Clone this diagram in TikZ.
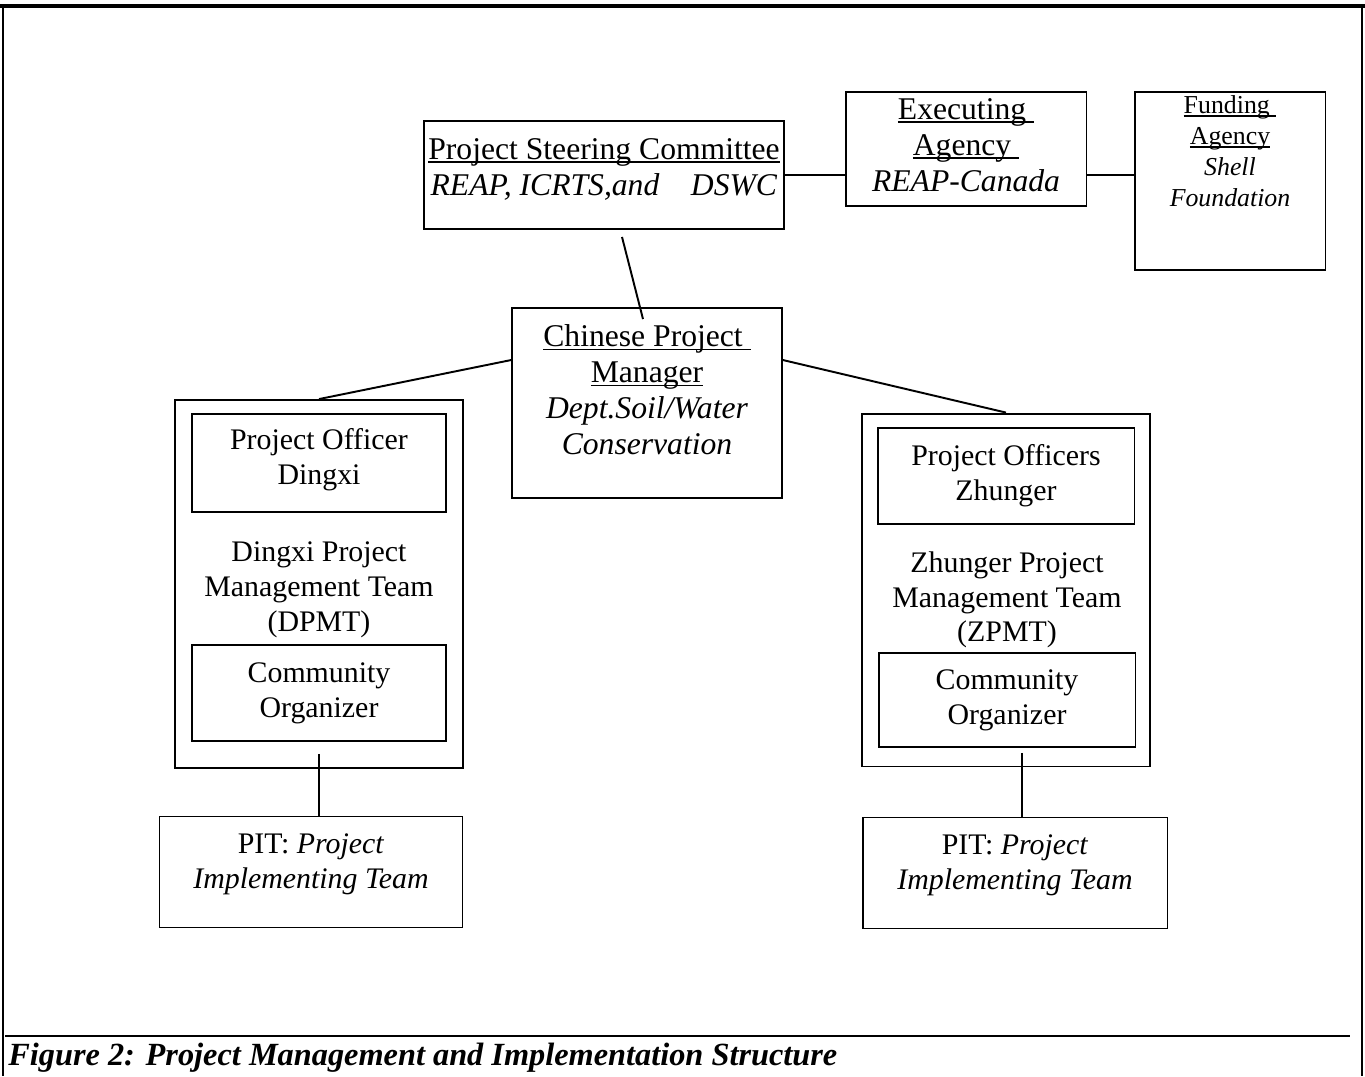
\documentclass[tikz,border=0pt]{standalone}
\usepackage{fontspec}
\setmainfont{Liberation Serif}
\usetikzlibrary{positioning}

% underline sitting close under the baseline
\newcommand\undl[1]{\setbox0\hbox{#1}\rlap{\rule[-2pt]{\wd0}{0.9pt}}\box0}

\tikzset{
  box/.style={draw, line width=1.1pt, inner sep=0pt},
  big/.style={align=center, inner sep=0pt, font=\fontsize{17}{19.8}\selectfont},
  head/.style={align=center, inner sep=0pt, font=\fontsize{18}{20.5}\selectfont},
  small/.style={align=center, inner sep=0pt, font=\fontsize{14.7}{17.6}\selectfont},
  link/.style={line width=1.1pt}
}

\begin{document}
\begin{tikzpicture}[x=0.02cm, y=-0.02cm]
\useasboundingbox (0,0) rectangle (1365,1076);

% page frame and caption rule
\draw[line width=2.2pt] (0,6) -- (1365,6);
\draw[line width=1.1pt] (3,6) -- (3,1076);
\draw[line width=1.1pt] (1362,6) -- (1362,1076);
\draw[line width=0.9pt] (5,1036) -- (1350,1036);

% top row
\node[box, minimum width=7.2cm, minimum height=2.16cm] (steer) at (604,175) {};
\node[head] (steertxt) at (604,169) {\undl{Project Steering Committee}\\ \textit{REAP, ICRTS,and\ \ \ \ DSWC}};
\node[box, minimum width=4.82cm, minimum height=2.28cm] (exec) at (966,149) {};
\node[head] (exectxt) at (966,145) {\undl{Executing\ }\\ \undl{Agency\ }\\ \textit{REAP-Canada}};
\node[box, minimum width=3.82cm, minimum height=3.56cm] (fund) at (1230,181) {};
\node[small] (fundtxt) at (1230,151) {\undl{Funding\ }\\ \undl{Agency}\\ \textit{Shell}\\ \textit{Foundation}};

% manager
\node[box, minimum width=5.4cm, minimum height=3.8cm] (cpm) at (647,403) {};
\node[head] (cpmtxt) at (647,390) {\undl{Chinese Project\ }\\ \undl{Manager}\\ \textit{Dept.Soil/Water}\\ \textit{Conservation}};

% Dingxi team
\node[box, minimum width=5.76cm, minimum height=7.36cm] (dpmt) at (319,584) {};
\node[box, minimum width=5.08cm, minimum height=1.96cm] (doff) at (319,463) {};
\node[big] (dofftxt) at (319,460) {Project Officer\\ Dingxi};
\node[big] (dpmttxt) at (319,590) {Dingxi Project\\ Management Team\\ (DPMT)};
\node[box, big, minimum width=5.08cm, minimum height=1.92cm] (dcom) at (319,693) {Community\\ Organizer};
\node[box, minimum width=6.06cm, minimum height=2.22cm] (dpit) at (311,872) {};
\node[big] (dpittxt) at (311,864) {PIT: \textit{Project}\\ \textit{Implementing Team}};

% Zhunger team
\node[box, minimum width=5.76cm, minimum height=7.06cm] (zpmt) at (1006,590) {};
\node[box, big, minimum width=5.14cm, minimum height=1.92cm] (zoff) at (1006,476) {Project Officers\\ Zhunger};
\node[big] (zpmttxt) at (1007,600) {Zhunger Project\\ Management Team\\ (ZPMT)};
\node[box, big, minimum width=5.14cm, minimum height=1.88cm] (zcom) at (1007,700) {Community\\ Organizer};
\node[box, minimum width=6.1cm, minimum height=2.22cm] (zpit) at (1015,873) {};
\node[big] (zpittxt) at (1015,865) {PIT: \textit{Project}\\ \textit{Implementing Team}};

% links
\draw[link] (steer.east) -- (steer.east -| exec.west);
\draw[link] (exec.east |- steer.east) -- (fund.west |- steer.east);
\draw[link] ([xshift=0.36cm, yshift=-0.14cm]steer.south) -- ([xshift=-0.08cm, yshift=-0.24cm]cpm.north);
\draw[link] ([yshift=-1.06cm]cpm.north west) -- (dpmt.north);
\draw[link] ([yshift=-1.06cm]cpm.north east) -- (zpmt.north);
\draw[link] ([yshift=-0.24cm]dcom.south) -- (dcom.south |- dpit.north);
\draw[link] ([xshift=0.3cm, yshift=-0.1cm]zcom.south) -- ([xshift=0.3cm]zcom.south |- zpit.north);

% caption
\node[anchor=west, inner sep=0pt, font=\fontsize{18.4}{20}\selectfont\bfseries\itshape] (cap) at (8,1058) {Figure 2: Project Management and Implementation Structure};
\end{tikzpicture}
\end{document}
